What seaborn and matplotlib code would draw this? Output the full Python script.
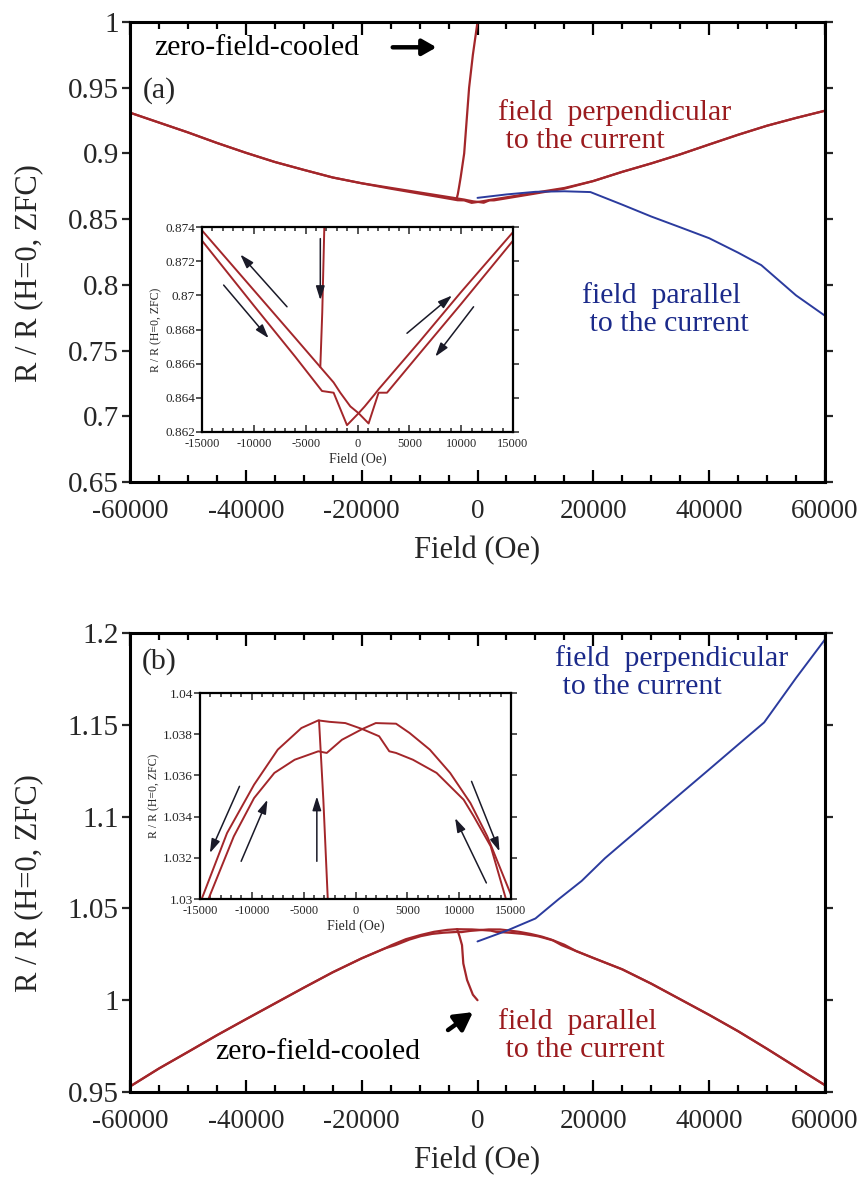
import matplotlib
matplotlib.use("Agg")
import matplotlib.pyplot as plt
from matplotlib.ticker import MultipleLocator, FormatStrFormatter, FuncFormatter
import numpy as np
import seaborn as sns


RED = "#a3262a"
BLUE = "#2b3b9e"
RED_TEXT = "#9b1b1e"
BLUE_TEXT = "#1b2a8a"
ARROW = "#1a1a28"

# ---------------- panel (a): field perpendicular (red) ----------------
a_left_wing_h = [-60000, -55000, -50000, -45000, -40000, -35000, -30000, -25000, -20000]
a_left_wing_r = [0.9310, 0.9235, 0.9160, 0.9080, 0.9005, 0.8935, 0.8875, 0.8817, 0.8773]
a_right_wing_h = [20000, 25000, 30000, 35000, 40000, 45000, 50000, 55000, 60000]
a_right_wing_r = [0.8790, 0.8860, 0.8924, 0.8993, 0.9068, 0.9142, 0.9211, 0.9270, 0.9325]

# sweep towards negative field (inner part, |H| <= 15000)
a_down_h = [15000, 10000, 6000, 2845, 2035, 1070, 106, -694, -1659, -2305, -3587, -6000, -10000, -15000]
a_down_r = [0.8732, 0.8695, 0.8666, 0.8643, 0.8643, 0.8625, 0.8631, 0.8635, 0.8643, 0.8649,
            0.8658, 0.8675, 0.8703, 0.8738]
# sweep towards positive field
a_up_h = [-15000, -10000, -6000, -3424, -2305, -1013, 106, 700, 1650, 2035, 6000, 10000, 15000]
a_up_r = [0.8732, 0.8694, 0.8664, 0.8644, 0.8643, 0.8624, 0.8631, 0.8635, 0.8642, 0.8645,
          0.8673, 0.8702, 0.8737]
# zero-field-cooled virgin curve
a_zfc_h = [0, -800, -1450, -2300, -2900, -3200, -3400, -3587]
a_zfc_r = [1.0, 0.975, 0.95, 0.90, 0.882, 0.874, 0.869, 0.8658]

# panel (a): field parallel (blue)
a_par_h = [0, 5000, 10000, 15000, 19500, 25000, 30000, 35000, 40000, 45000, 49000, 55000, 60000]
a_par_r = [0.8662, 0.8688, 0.8708, 0.8712, 0.8706, 0.8610, 0.8520, 0.8438, 0.8355, 0.8245,
           0.8150, 0.7920, 0.7765]

# ---------------- panel (b): field parallel (red) ----------------
b_left_wing_h = [-60000, -55000, -50000, -45000, -40000, -35000, -30000, -25000, -20000, -16000]
b_left_wing_r = [0.9530, 0.9628, 0.9718, 0.9809, 0.9896, 0.9982, 1.0068, 1.0152, 1.0228, 1.0282]
b_right_wing_h = [17000, 20000, 25000, 30000, 35000, 40000, 45000, 50000, 55000, 60000]
b_right_wing_r = [1.0268, 1.0230, 1.0168, 1.0090, 1.0005, 0.9920, 0.9831, 0.9735, 0.9636, 0.9537]

b_down_h = [14510, 13040, 11410, 10432, 7824, 5541, 3911, 3259, 2280, 650, -980, -2500, -3588,
            -5218, -7501, -9783, -12392, -14837]
b_down_r = [1.0300, 1.03256, 1.03401, 1.03482, 1.03612, 1.03676, 1.03709, 1.03717, 1.0379,
            1.03825, 1.03854, 1.0386, 1.03867, 1.0383, 1.03725, 1.03555, 1.0332, 1.0300]
b_up_h = [-14185, -11740, -9783, -7827, -5870, -3588, -2773, -1306, 650, 1954, 3911, 5215,
          7171, 9128, 11084, 12715, 15000]
b_up_r = [1.0300, 1.03304, 1.0349, 1.03612, 1.03676, 1.03717, 1.03709, 1.03773, 1.03825,
          1.03854, 1.03851, 1.03806, 1.03725, 1.03612, 1.03466, 1.03304, 1.0302]
b_zfc_h = [0, -800, -1800, -2450, -2675, -3100, -3520]
b_zfc_r = [1.0, 1.003, 1.011, 1.02, 1.03, 1.0348, 1.03867]

# panel (b): field perpendicular (blue)
b_perp_h = [0, 5000, 10000, 14000, 18000, 22000, 25000, 30000, 35000, 40000, 45000, 49500,
            55000, 60000]
b_perp_r = [1.0320, 1.0378, 1.0445, 1.0550, 1.0650, 1.0773, 1.0854, 1.0988, 1.1123, 1.1257,
            1.1392, 1.1513, 1.1755, 1.1965]

# inset arrows: (tail, head) in data units
a_inset_arrows = [
    ((-6800, 0.86933), (-11303, 0.87239)),
    ((-12912, 0.8706), (-8573, 0.86749)),
    ((-3587, 0.87332), (-3587, 0.86972)),
    ((4773, 0.86778), (9113, 0.86999)),
    ((11196, 0.86933), (7503, 0.86641)),
]
b_inset_arrows = [
    ((-11190, 1.03547), (-14048, 1.03223)),
    ((-11031, 1.03183), (-8491, 1.03482)),
    ((-3729, 1.03183), (-3729, 1.03498)),
    ((12623, 1.03078), (9606, 1.03393)),
    ((11194, 1.03571), (13893, 1.03231)),
]


def sweeps(left_h, left_r, down_h, down_r, up_h, up_r, right_h, right_r):
    down = (np.concatenate([right_h[::-1], down_h, left_h[::-1]]),
            np.concatenate([right_r[::-1], down_r, left_r[::-1]]))
    up = (np.concatenate([left_h, up_h, right_h]),
          np.concatenate([left_r, up_r, right_r]))
    return down, up


def line(ax, h, r, color, lw):
    sns.lineplot(x=np.asarray(h), y=np.asarray(r), ax=ax, color=color, lw=lw,
                 sort=False, estimator=None, legend=False)


def gfmt(v, _pos):
    return f"{v:g}"


def style_main(ax, ylo, yhi):
    ax.set_xlim(-60000, 60000)
    ax.set_ylim(ylo, yhi)
    ax.xaxis.set_major_locator(MultipleLocator(20000))
    ax.xaxis.set_minor_locator(MultipleLocator(5000))
    ax.yaxis.set_major_locator(MultipleLocator(0.05))
    ax.yaxis.set_major_formatter(FuncFormatter(gfmt))
    ax.xaxis.set_major_formatter(FormatStrFormatter("%d"))
    ax.tick_params(axis="x", which="both", direction="in", top=True, labelsize=19.5,
                   pad=12, width=1.6, color="black")
    ax.tick_params(axis="x", which="major", length=9)
    ax.tick_params(axis="x", which="minor", length=5)
    ax.tick_params(axis="y", direction="out", right=True, labelsize=21, length=6,
                   width=1.6, pad=2)
    for s in ax.spines.values():
        s.set_linewidth(2.2)
        s.set_color("black")
    ax.set_xlabel("Field (Oe)", fontsize=22, labelpad=9)
    ax.set_ylabel("R / R (H=0, ZFC)", fontsize=22)
    ax.yaxis.set_label_coords(-0.125, 0.455)


def style_inset(ax, ylo, yhi, ystep):
    ax.set_xlim(-15000, 15000)
    ax.set_ylim(ylo, yhi)
    ax.set_facecolor("white")
    ax.xaxis.set_major_locator(MultipleLocator(5000))
    ax.xaxis.set_minor_locator(MultipleLocator(1000))
    ax.yaxis.set_major_locator(MultipleLocator(ystep))
    ax.yaxis.set_major_formatter(FuncFormatter(gfmt))
    ax.xaxis.set_major_formatter(FormatStrFormatter("%d"))
    ax.tick_params(axis="x", which="both", direction="in", top=True, labelsize=9,
                   pad=4, width=1.1)
    ax.tick_params(axis="x", which="major", length=5)
    ax.tick_params(axis="x", which="minor", length=3)
    ax.tick_params(axis="y", direction="out", right=True, labelsize=9.5, length=4,
                   width=1.1, pad=1)
    for s in ax.spines.values():
        s.set_linewidth(1.6)
        s.set_color("black")
    ax.set_xlabel("Field (Oe)", fontsize=10, labelpad=2)
    ax.set_ylabel("R / R (H=0, ZFC)", fontsize=8.5, labelpad=2)


def inset_arrows(ax, arrows):
    for tail, head in arrows:
        ax.annotate("", xy=head, xytext=tail,
                    arrowprops=dict(arrowstyle="-|>,head_length=0.7,head_width=0.22",
                                    lw=1.1, color=ARROW, shrinkA=0, shrinkB=0))


def main():
    sns.set_theme(style="ticks")
    plt.rcParams["font.family"] = ["Liberation Serif", "DejaVu Serif"]
    plt.rcParams["mathtext.fontset"] = "dejavuserif"
    plt.rcParams["axes.unicode_minus"] = False

    fig = plt.figure(figsize=(8.58, 11.81), dpi=100)
    ax_a = fig.add_axes([130 / 858, 1 - 482 / 1181, 695 / 858, 460 / 1181])
    ax_b = fig.add_axes([130 / 858, 1 - 1092 / 1181, 695 / 858, 459 / 1181])
    in_a = fig.add_axes([202 / 858, 1 - 432 / 1181, 311 / 858, 205 / 1181])
    in_b = fig.add_axes([200 / 858, 1 - 899 / 1181, 311 / 858, 206 / 1181])

    # ---------- panel (a) ----------
    (ad_h, ad_r), (au_h, au_r) = sweeps(a_left_wing_h, a_left_wing_r, a_down_h, a_down_r,
                                        a_up_h, a_up_r, a_right_wing_h, a_right_wing_r)
    for ax, lw in ((ax_a, 1.6), (in_a, 1.4)):
        line(ax, ad_h, ad_r, RED, lw)
        line(ax, au_h, au_r, RED, lw)
        line(ax, a_zfc_h, a_zfc_r, RED, lw)
    line(ax_a, a_par_h, a_par_r, BLUE, 1.4)
    style_main(ax_a, 0.65, 1.0)
    style_inset(in_a, 0.862, 0.874, 0.002)
    inset_arrows(in_a, a_inset_arrows)

    ax_a.text(0.0345, 0.943, "zero-field-cooled", transform=ax_a.transAxes, fontsize=21.5,
              ha="left", va="center", color="black")
    ax_a.annotate("", xy=(0.441, 0.945), xytext=(0.378, 0.945), xycoords="axes fraction",
                  arrowprops=dict(arrowstyle="-|>,head_length=0.7,head_width=0.4", lw=3.2,
                                  color="black", shrinkA=0, shrinkB=0))
    ax_a.text(0.019, 0.852, "(a)", transform=ax_a.transAxes, fontsize=21.5, ha="left",
              va="center")
    ax_a.text(0.5295, 0.772, "field  perpendicular\n to the current", transform=ax_a.transAxes,
              fontsize=21.5, ha="left", va="center", color=RED_TEXT, linespacing=1.1)
    ax_a.text(0.650, 0.376, "field  parallel\n to the current", transform=ax_a.transAxes,
              fontsize=21.5, ha="left", va="center", color=BLUE_TEXT, linespacing=1.1)

    # ---------- panel (b) ----------
    (bd_h, bd_r), (bu_h, bu_r) = sweeps(b_left_wing_h, b_left_wing_r, b_down_h, b_down_r,
                                        b_up_h, b_up_r, b_right_wing_h, b_right_wing_r)
    for ax, lw in ((ax_b, 1.6), (in_b, 1.4)):
        line(ax, bd_h, bd_r, RED, lw)
        line(ax, bu_h, bu_r, RED, lw)
        line(ax, b_zfc_h, b_zfc_r, RED, lw)
    line(ax_b, b_perp_h, b_perp_r, BLUE, 1.4)
    style_main(ax_b, 0.95, 1.2)
    style_inset(in_b, 1.03, 1.04, 0.002)
    inset_arrows(in_b, b_inset_arrows)

    ax_b.text(0.017, 0.937, "(b)", transform=ax_b.transAxes, fontsize=21.5, ha="left",
              va="center")
    ax_b.text(0.6115, 0.913, "field  perpendicular\n to the current", transform=ax_b.transAxes,
              fontsize=21.5, ha="left", va="center", color=BLUE_TEXT, linespacing=1.1)
    ax_b.text(0.5295, 0.124, "field  parallel\n to the current", transform=ax_b.transAxes,
              fontsize=21.5, ha="left", va="center", color=RED_TEXT, linespacing=1.1)
    ax_b.text(0.1223, 0.087, "zero-field-cooled", transform=ax_b.transAxes, fontsize=21.5,
              ha="left", va="center", color="black")
    ax_b.annotate("", xy=(0.4935, 0.174), xytext=(0.4576, 0.135), xycoords="axes fraction",
                  arrowprops=dict(arrowstyle="-|>,head_length=0.9,head_width=0.5", lw=3.2,
                                  color="black", shrinkA=0, shrinkB=0))

    fig.savefig("out.png", dpi=100, facecolor="white")
    plt.close(fig)


if __name__ == "__main__":
    main()
